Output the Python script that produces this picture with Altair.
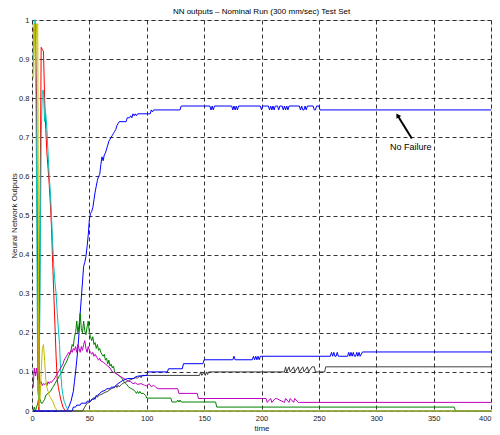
import altair as alt
import pandas as pd

TITLE = "NN outputs \u2013 Nominal Run (300 mm/sec) Test Set"
X_TITLE = "time"
Y_TITLE = "Neural Network Outputs"
X_TICKS = [0, 50, 100, 150, 200, 250, 300, 350, 400]
Y_TICKS = [0, 0.1, 0.2, 0.3, 0.4, 0.5, 0.6, 0.7, 0.8, 0.9, 1]

# Output 1 (blue, "No Failure")
blue1_x = [1, 30, 32, 34, 36, 37, 38, 39, 40, 41, 42, 43, 44, 45, 46, 47, 48, 49, 50, 51, 52, 53, 54, 55,
           56, 57, 58, 59, 60, 61, 62, 63, 64, 65, 66, 67, 68, 69, 70, 71, 72, 73, 74, 75, 76, 82, 83, 85,
           86, 87, 88, 89, 90, 91, 92, 103, 104, 105, 106, 129, 130, 155, 156, 157, 158, 159, 174, 175, 176,
           177, 178, 179, 180, 199, 200, 201, 206, 207, 208, 209, 210, 211, 212, 214, 215, 216, 218, 219, 220,
           221, 222, 223, 224, 233, 234, 235, 236, 237, 238, 239, 240, 245, 246, 247, 248, 250, 251, 400]
blue1_y = [0, 0, 0.01, 0.025, 0.05, 0.075, 0.1, 0.13, 0.16, 0.2, 0.25, 0.29, 0.33, 0.37, 0.38, 0.395,
           0.42, 0.45, 0.49, 0.505, 0.51, 0.52, 0.54, 0.56, 0.575, 0.59, 0.6, 0.605, 0.63, 0.65, 0.64,
           0.655, 0.66, 0.67, 0.68, 0.69, 0.695, 0.7, 0.705, 0.71, 0.715, 0.72, 0.73, 0.735, 0.74, 0.74,
           0.75, 0.75, 0.755, 0.75, 0.76, 0.755, 0.76, 0.755, 0.76, 0.76, 0.77, 0.765, 0.77, 0.77, 0.78,
           0.78, 0.77, 0.78, 0.77, 0.78, 0.78, 0.77, 0.78, 0.77, 0.78, 0.77, 0.78, 0.78, 0.77, 0.78, 0.78,
           0.77, 0.78, 0.77, 0.78, 0.77, 0.78, 0.78, 0.77, 0.78, 0.78, 0.77, 0.78, 0.77, 0.78, 0.77, 0.78,
           0.78, 0.77, 0.78, 0.77, 0.77, 0.78, 0.77, 0.78, 0.78, 0.77, 0.77, 0.78, 0.78, 0.77, 0.77]

# Output 2 (green)
green_x = [1, 2, 3, 4, 5, 6, 7, 8, 9, 10, 11, 12, 14, 16, 18, 20, 22, 24, 26, 28, 30, 32, 34, 35, 36, 37,
           38, 39, 40, 41, 42, 43, 44, 45, 46, 47, 48, 49, 50, 51, 52, 53, 54, 55, 56, 57, 58, 59, 60, 61,
           62, 63, 64, 65, 66, 67, 68, 69, 70, 71, 72, 74, 76, 78, 79, 80, 82, 84, 86, 88, 90, 91, 92, 93,
           94, 95, 97, 99, 100, 121, 122, 126, 127, 128, 129, 130, 160, 161, 368, 369, 400]
green_y = [0, 0.01, 0, 0.01, 0.02, 0.035, 0.03, 0.02, 0.02, 0.025, 0.03, 0.04, 0.045, 0.05, 0.06, 0.07,
           0.08, 0.09, 0.1, 0.115, 0.125, 0.14, 0.155, 0.17, 0.165, 0.19, 0.2, 0.23, 0.2, 0.22, 0.25, 0.21,
           0.2, 0.23, 0.205, 0.195, 0.215, 0.23, 0.2, 0.19, 0.18, 0.19, 0.17, 0.175, 0.16, 0.17, 0.155, 0.16,
           0.15, 0.145, 0.14, 0.145, 0.13, 0.135, 0.12, 0.13, 0.115, 0.12, 0.11, 0.115, 0.1, 0.095, 0.09,
           0.085, 0.08, 0.075, 0.07, 0.062, 0.058, 0.055, 0.05, 0.045, 0.05, 0.045, 0.05, 0.045, 0.045, 0.04,
           0.033, 0.033, 0.023, 0.023, 0.028, 0.023, 0.028, 0.023, 0.023, 0.01, 0.01, 0, 0]

# Output 3 (red)
red_x = [1, 2, 3, 4, 5, 6, 7, 8, 9, 10, 11, 12, 13, 14, 15, 16, 17, 18, 19, 20, 21, 22, 23, 24, 25, 27,
         29, 400]
red_y = [0.97, 0.98, 0.96, 0.8, 0.3, 0, 0.5, 0.93, 0.925, 0.92, 0.8, 0.72, 0.66, 0.62, 0.58, 0.53, 0.47,
         0.38, 0.3, 0.22, 0.14, 0.08, 0.06, 0.045, 0.03, 0.01, 0, 0]

# Output 4 (cyan)
cyan_x = [1, 2, 3, 4, 5, 6, 7, 8, 9, 10, 11, 12, 13, 14, 15, 16, 17, 18, 19, 20, 21, 22, 23, 24, 25, 26,
          27, 28, 30, 32, 400]
cyan_y = [0.9, 1.0, 1.0, 0.55, 0.05, 0.03, 0.3, 0.7, 0.82, 0.82, 0.74, 0.76, 0.72, 0.66, 0.6, 0.56, 0.5,
          0.43, 0.37, 0.33, 0.3, 0.25, 0.21, 0.17, 0.1, 0.06, 0.04, 0.025, 0.01, 0, 0]

# Output 5 (magenta)
magenta_x = [1, 2, 3, 4, 5, 6, 7, 8, 9, 10, 11, 12, 13, 14, 15, 16, 17, 18, 19, 20, 21, 22, 23, 24, 25,
             26, 27, 28, 29, 30, 31, 32, 33, 34, 35, 36, 37, 38, 39, 40, 41, 42, 43, 44, 45, 46, 47, 48,
             49, 50, 51, 52, 53, 54, 55, 56, 57, 58, 59, 60, 62, 64, 66, 68, 70, 72, 74, 76, 78, 80, 82,
             84, 86, 88, 90, 92, 95, 98, 100, 102, 104, 106, 108, 110, 127, 128, 144, 145, 204, 205, 208,
             209, 212, 213, 220, 221, 224, 225, 228, 229, 232, 233, 400]
magenta_y = [0.06, 0.11, 0.09, 0.11, 0.08, 0.1, 0.07, 0.075, 0.065, 0.07, 0.068, 0.07, 0.065, 0.075, 0.07,
             0.075, 0.073, 0.078, 0.08, 0.085, 0.09, 0.095, 0.1, 0.105, 0.11, 0.115, 0.12, 0.13, 0.135,
             0.14, 0.145, 0.15, 0.145, 0.155, 0.15, 0.16, 0.155, 0.165, 0.15, 0.17, 0.16, 0.15, 0.165,
             0.155, 0.17, 0.18, 0.16, 0.15, 0.165, 0.155, 0.15, 0.145, 0.15, 0.14, 0.145, 0.14, 0.135,
             0.13, 0.135, 0.128, 0.125, 0.12, 0.115, 0.11, 0.1, 0.098, 0.094, 0.09, 0.087, 0.083, 0.08,
             0.076, 0.075, 0.07, 0.072, 0.068, 0.07, 0.066, 0.064, 0.07, 0.062, 0.066, 0.06, 0.057, 0.057,
             0.045, 0.045, 0.032, 0.032, 0.022, 0.032, 0.022, 0.032, 0.032, 0.022, 0.032, 0.022, 0.032,
             0.022, 0.032, 0.022, 0.022, 0.022]

# Output 6 (yellow)
yellow_x = [1, 2, 3, 4, 5, 6, 7, 8, 9, 10, 11, 12, 13, 14, 15, 16, 18, 20, 22, 400]
yellow_y = [0.85, 0.99, 0.85, 0.99, 0.99, 0.01, 0.03, 0.1, 0.16, 0.17, 0.13, 0.08, 0.06, 0.05, 0.04,
            0.035, 0.025, 0.01, 0, 0]

# Output 7 (black)
black_x = [1, 44, 46, 48, 50, 52, 54, 55, 56, 57, 58, 60, 62, 64, 66, 68, 70, 72, 73, 74, 75, 76, 78,
           80, 82, 84, 86, 88, 90, 92, 94, 95, 96, 146, 147, 148, 150, 151, 152, 153, 154, 220, 221, 222,
           224, 225, 228, 229, 232, 233, 236, 237, 240, 241, 244, 246, 247, 255, 256, 400]
black_y = [0, 0, 0.01, 0.02, 0.022, 0.028, 0.035, 0.03, 0.04, 0.035, 0.04, 0.042, 0.045, 0.048, 0.05,
           0.055, 0.058, 0.06, 0.065, 0.06, 0.066, 0.062, 0.068, 0.072, 0.074, 0.078, 0.08, 0.083, 0.085,
           0.084, 0.09, 0.085, 0.091, 0.091, 0.1, 0.091, 0.1, 0.091, 0.1, 0.093, 0.1, 0.1, 0.113, 0.1,
           0.113, 0.1, 0.113, 0.1, 0.113, 0.1, 0.113, 0.1, 0.113, 0.1, 0.113, 0.113, 0.1, 0.1, 0.113, 0.113]

# Output 8 (blue)
blue2_x = [1, 35, 36, 38, 39, 42, 43, 47, 48, 51, 52, 54, 55, 57, 59, 61, 64, 65, 68, 69, 72, 73, 75, 77,
           79, 83, 89, 90, 92, 100, 101, 118, 119, 131, 132, 149, 150, 175, 176, 177, 192, 193, 194, 195,
           196, 197, 198, 199, 260, 261, 262, 263, 264, 265, 266, 267, 268, 275, 276, 277, 278, 279, 280,
           281, 282, 283, 284, 285, 286, 288, 400]
blue2_y = [0, 0, 0.01, 0.01, 0.015, 0.015, 0.02, 0.02, 0.025, 0.025, 0.03, 0.03, 0.035, 0.04, 0.045, 0.05,
           0.053, 0.057, 0.057, 0.061, 0.061, 0.065, 0.07, 0.074, 0.078, 0.083, 0.083, 0.087, 0.089, 0.091,
           0.1, 0.1, 0.108, 0.108, 0.121, 0.121, 0.131, 0.131, 0.14, 0.131, 0.131, 0.14, 0.131, 0.14, 0.131,
           0.14, 0.131, 0.14, 0.14, 0.15, 0.14, 0.15, 0.14, 0.14, 0.15, 0.14, 0.14, 0.14, 0.15, 0.14, 0.15,
           0.14, 0.15, 0.14, 0.14, 0.15, 0.14, 0.15, 0.14, 0.151, 0.151]

SERIES = [
    (blue1_x, blue1_y, "#0000ff"),
    (green_x, green_y, "#008000"),
    (red_x, red_y, "#ff0000"),
    (cyan_x, cyan_y, "#00bfbf"),
    (magenta_x, magenta_y, "#bf00bf"),
    (yellow_x, yellow_y, "#bfbf00"),
    (black_x, black_y, "#404040"),
    (blue2_x, blue2_y, "#0000ff"),
]

NOTE_TEXT = ["No Failure"]
NOTE_X = [312]
NOTE_Y = [0.675]
ARROW_X = [331]
ARROW_Y = [0.697]
ARROW_X2 = [318.6]
ARROW_Y2 = [0.756]

PLOT_W = 459
PLOT_H = 391
FONT = "Liberation Sans"

x_axis = alt.Axis(
    values=X_TICKS, format="d", title=X_TITLE,
    grid=True, gridColor="black", gridDash=[4, 3], gridWidth=0.8, gridOpacity=1,
    domain=False, ticks=False, tickSize=0, labelPadding=3,
    labelAlign=alt.ConditionalAxisLabelAlign(
        condition={"test": "datum.value >= 400", "value": "right"}, value="center"),
    labelFont=FONT, labelFontSize=7.5, labelColor="#222",
    titleFont=FONT, titleFontSize=8, titleFontWeight="normal", titleColor="#222",
    titleX=PLOT_W / 2, titleY=17, titleBaseline="middle", titleAlign="center",
)
y_axis = alt.Axis(
    values=Y_TICKS, format=".1~f", title=Y_TITLE,
    grid=True, gridColor="black", gridDash=[4, 3], gridWidth=0.8, gridOpacity=1,
    domain=False, ticks=False, tickSize=0, labelPadding=3,
    labelFont=FONT, labelFontSize=7.5, labelColor="#222",
    titleFont=FONT, titleFontSize=8, titleFontWeight="normal", titleColor="#222",
    titleX=-18, titleY=PLOT_H / 2, titleAngle=-90, titleBaseline="middle", titleAlign="center",
)

x_enc = alt.X("t:Q", scale=alt.Scale(domain=[0, 400], nice=False, zero=False), axis=x_axis)
y_enc = alt.Y("v:Q", scale=alt.Scale(domain=[0, 1], nice=False), axis=y_axis)

layers = []
for xs, ys, col in SERIES:
    df = pd.DataFrame({"t": xs, "v": ys})
    layers.append(
        alt.Chart(df).mark_line(color=col, strokeWidth=1, interpolate="linear").encode(x=x_enc, y=y_enc)
    )

arrow_df = pd.DataFrame({"t": ARROW_X, "v": ARROW_Y, "t2": ARROW_X2, "v2": ARROW_Y2})
layers.append(
    alt.Chart(arrow_df).mark_rule(color="black", strokeWidth=2).encode(
        x=x_enc, y=y_enc, x2="t2:Q", y2="v2:Q")
)
head_df = pd.DataFrame({"t": ARROW_X2, "v": ARROW_Y2})
layers.append(
    alt.Chart(head_df).mark_point(shape="triangle-up", filled=True, color="black", size=30,
                                  opacity=1, angle=328).encode(x=x_enc, y=y_enc)
)
note_df = pd.DataFrame({"t": NOTE_X, "v": NOTE_Y, "label": NOTE_TEXT})
layers.append(
    alt.Chart(note_df).mark_text(align="left", baseline="middle", fontSize=9, color="black",
                                 font=FONT).encode(x=x_enc, y=y_enc, text="label:N")
)

chart = alt.layer(*layers).properties(
    width=PLOT_W, height=PLOT_H,
    title=alt.TitleParams(TITLE, fontSize=8, fontWeight="normal", font=FONT,
                          color="black", offset=0, anchor="middle"),
    autosize=alt.AutoSizeParams(type="none"),
    padding={"left": 24, "top": 12, "right": 1, "bottom": 24},
).configure_view(
    stroke="black", strokeWidth=1
).configure(background="white")

chart.save("out.html", embed_options={"renderer": "svg", "actions": False})
